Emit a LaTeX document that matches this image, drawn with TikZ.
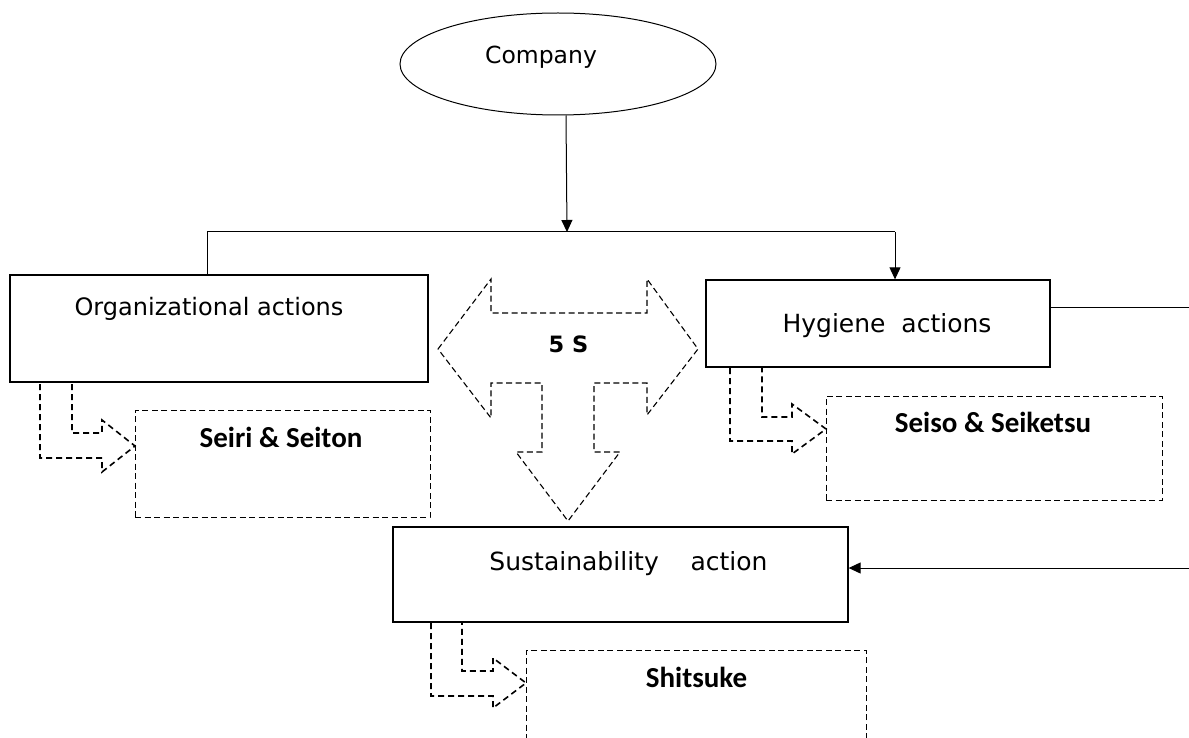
\documentclass[tikz,border=0pt]{standalone}
\usepackage{fontspec}
\setmainfont{DejaVu Sans}
\newfontfamily\boldlab{Carlito}
\usetikzlibrary{shapes.geometric,arrows.meta}
\begin{document}
\begin{tikzpicture}[x=1pt,y=-1pt,
  solidbox/.style={draw,line width=1.3pt,inner sep=0pt},
  dashbox/.style={draw,line width=1pt,dash pattern=on 6pt off 3.5pt,inner sep=0pt},
  plain/.style={font=\fontsize{25}{29}\selectfont,inner sep=0pt,anchor=base},
  boldtxt/.style={font=\boldlab\bfseries\fontsize{29}{33}\selectfont,inner sep=0pt,anchor=base},
  conn/.style={line width=1pt},
  tip/.style={-{Triangle[length=12pt,width=11pt]}},
  bentarrow/.style={line width=1.6pt,dash pattern=on 6pt off 4pt,line join=miter},
  bigarrow/.style={line width=1.1pt,dash pattern=on 6pt off 3.5pt,line join=miter}]
\useasboundingbox (0,0) rectangle (1189,738);
\clip (0,0) rectangle (1189,738);
% nodes
\node[ellipse,draw,line width=1pt,minimum width=316pt,minimum height=102pt,inner sep=0pt] (comp) at (558,64) {};
\node[plain,font=\fontsize{23.5}{27}\selectfont] (comptxt) at (541,64) {Company};
\node[solidbox,minimum width=418pt,minimum height=107pt] (org) at (219,328.5) {};
\node[plain,font=\fontsize{24}{28}\selectfont] (orgtxt) at (209,315) {Organizational actions};
\node[solidbox,minimum width=344pt,minimum height=87pt] (hyg) at (878,323.5) {};
\node[plain] (hygtxt) at (887,332) {Hygiene\ \ actions};
\node[solidbox,minimum width=455pt,minimum height=95pt] (sust) at (620.5,574.5) {};
\node[plain] (susttxt) at (628.5,570) {Sustainability\ \ \ \ action};
\node[dashbox,minimum width=295pt,minimum height=107pt] (seiri) at (282.5,463.5) {};
\node[boldtxt] (seiritxt) at (281,447) {Seiri \& Seiton};
\node[dashbox,minimum width=336pt,minimum height=104pt] (seiso) at (994,448) {};
\node[boldtxt] (seisotxt) at (993,432) {Seiso \& Seiketsu};
\node[dashbox,minimum width=340pt,minimum height=110pt] (shit) at (696,705) {};
\node[boldtxt] (shittxt) at (696.5,687) {Shitsuke};
\node[font=\bfseries\fontsize{22.5}{26}\selectfont,inner sep=0pt,anchor=base] (fives) at (568.5,352) {5 S};
% connectors
\coordinate (junc) at (567,232);
\coordinate (jl) at (207,232);
\coordinate (jr) at (895,232);
\draw[conn,tip] ([xshift=8pt]comp.south) -- (junc);
\draw[conn] (org.north -| jl) -- (jl) -- (jr);
\draw[conn,tip] (jr) -- (jr |- hyg.north);
\coordinate (r1) at (1200,307);
\coordinate (r2) at (1200,568);
\draw[conn,tip] (r1 -| hyg.east) -- (r1) -- (r2) -- (r2 -| sust.east);
% bent dashed arrows
\draw[bentarrow] (40,384) -- (40,458) -- (102,458) -- (102,472) -- (135,446) -- (102,420) -- (102,433) -- (72,433) -- (72,384);
\draw[bentarrow] (730,368) -- (730,441) -- (792,441) -- (792,454) -- (826,429) -- (792,404) -- (792,417) -- (762,417) -- (762,368);
\draw[bentarrow] (431,623) -- (431,696) -- (493,696) -- (493,708) -- (526,683) -- (493,658) -- (493,671) -- (462,671) -- (462,623);
% 5S arrow
\draw[bigarrow] (438,349) -- (491,279) -- (491,313) -- (647,313) -- (647,279) -- (698,349) -- (647,415) -- (647,383) -- (594,383) -- (594,452) -- (620,452) -- (568,521) -- (516,452) -- (542,452) -- (542,383) -- (491,383) -- (491,418) -- cycle;
\end{tikzpicture}
\end{document}
